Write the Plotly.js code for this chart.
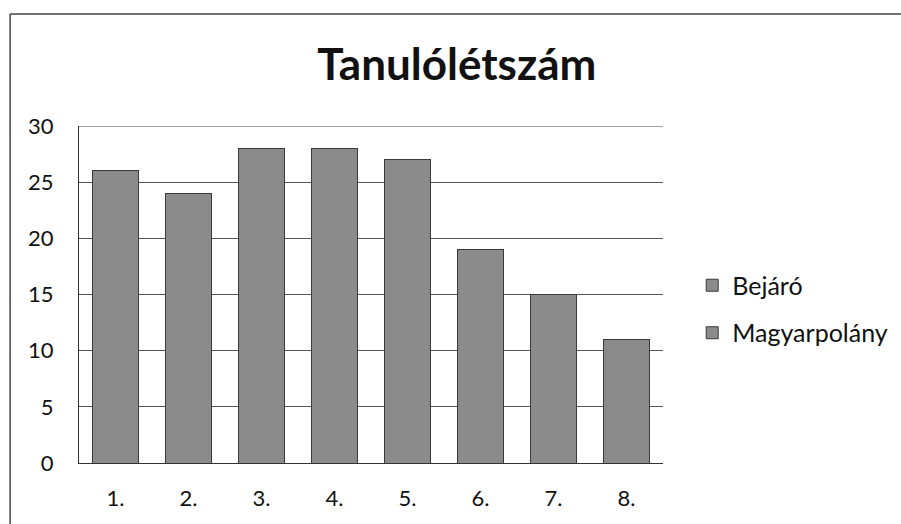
<!DOCTYPE html>
<html>
<head>
<meta charset="utf-8">
<script src="https://cdn.plot.ly/plotly-3.0.1.min.js"></script>
<style>html,body{margin:0;padding:0;background:#fff;}#chart{width:901px;height:524px;}</style>
</head>
<body>
<div id="chart"></div>
<script>
var categories = ["1.", "2.", "3.", "4.", "5.", "6.", "7.", "8."];
var bejaro = [26, 24, 28, 28, 27, 19, 15, 11];
var magyarpolany = [null, null, null, null, null, null, null, null];
var seriesNames = ["Bejáró", "Magyarpolány"];
var yTicks = [0, 5, 10, 15, 20, 25, 30];

var font = "Lato, 'Open Sans', sans-serif";
var barStyle = {color: "#8b8b8b", line: {color: "#3a3a3a", width: 1}};

var traces = [
  {type: "bar", x: categories, y: bejaro, name: seriesNames[0], marker: barStyle, legendgroup: "a"},
  {type: "bar", x: categories, y: magyarpolany, name: seriesNames[1], marker: barStyle, legendgroup: "b"}
];

var yMax = yTicks[yTicks.length - 1];

var layout = {
  width: 901, height: 524,
  margin: {l: 79, r: 238, t: 126, b: 61, autoexpand: false},
  paper_bgcolor: "#fff", plot_bgcolor: "#fff",
  barmode: "stack",
  bargap: 0.37,
  showlegend: true,
  font: {family: font, color: "#111", size: 22},
  title: {text: "<b>Tanulólétszám</b>", font: {family: font, size: 44, color: "#111"},
          xref: "paper", x: 0.647, xanchor: "center", yref: "container", y: 0.876, yanchor: "middle"},
  xaxis: {type: "category", showgrid: false, showline: true, linecolor: "#333", linewidth: 1,
          ticks: "", tickfont: {size: 22}, ticklabelstandoff: 16, automargin: false},
  yaxis: {range: [0, yMax], tickvals: yTicks, ticktext: yTicks.map(String), showgrid: true,
          gridcolor: "#555", gridwidth: 1, showline: true, linecolor: "#333", linewidth: 1,
          zeroline: false, ticks: "", ticklabelstandoff: 20, tickfont: {size: 22}, fixedrange: true,
          automargin: false},
  legend: {x: 1.05, xanchor: "left", y: 0.457, yanchor: "middle", traceorder: "grouped",
           tracegroupgap: 12, font: {size: 25}, itemwidth: 30, bgcolor: "rgba(0,0,0,0)"},
  shapes: [
    {type: "line", xref: "paper", yref: "y", x0: 0, x1: 1, y0: yMax, y1: yMax,
     line: {color: "#444", width: 1}},
    {type: "line", xref: "paper", yref: "paper", x0: -0.118, x1: 1.41, y0: 1.332, y1: 1.332,
     line: {color: "#444", width: 1.5}},
    {type: "line", xref: "paper", yref: "paper", x0: -0.118, x1: -0.118, y0: -0.2, y1: 1.332,
     line: {color: "#444", width: 1.5}}
  ]
};

Plotly.newPlot("chart", traces, layout, {displayModeBar: false, staticPlot: true});
</script>
</body>
</html>
